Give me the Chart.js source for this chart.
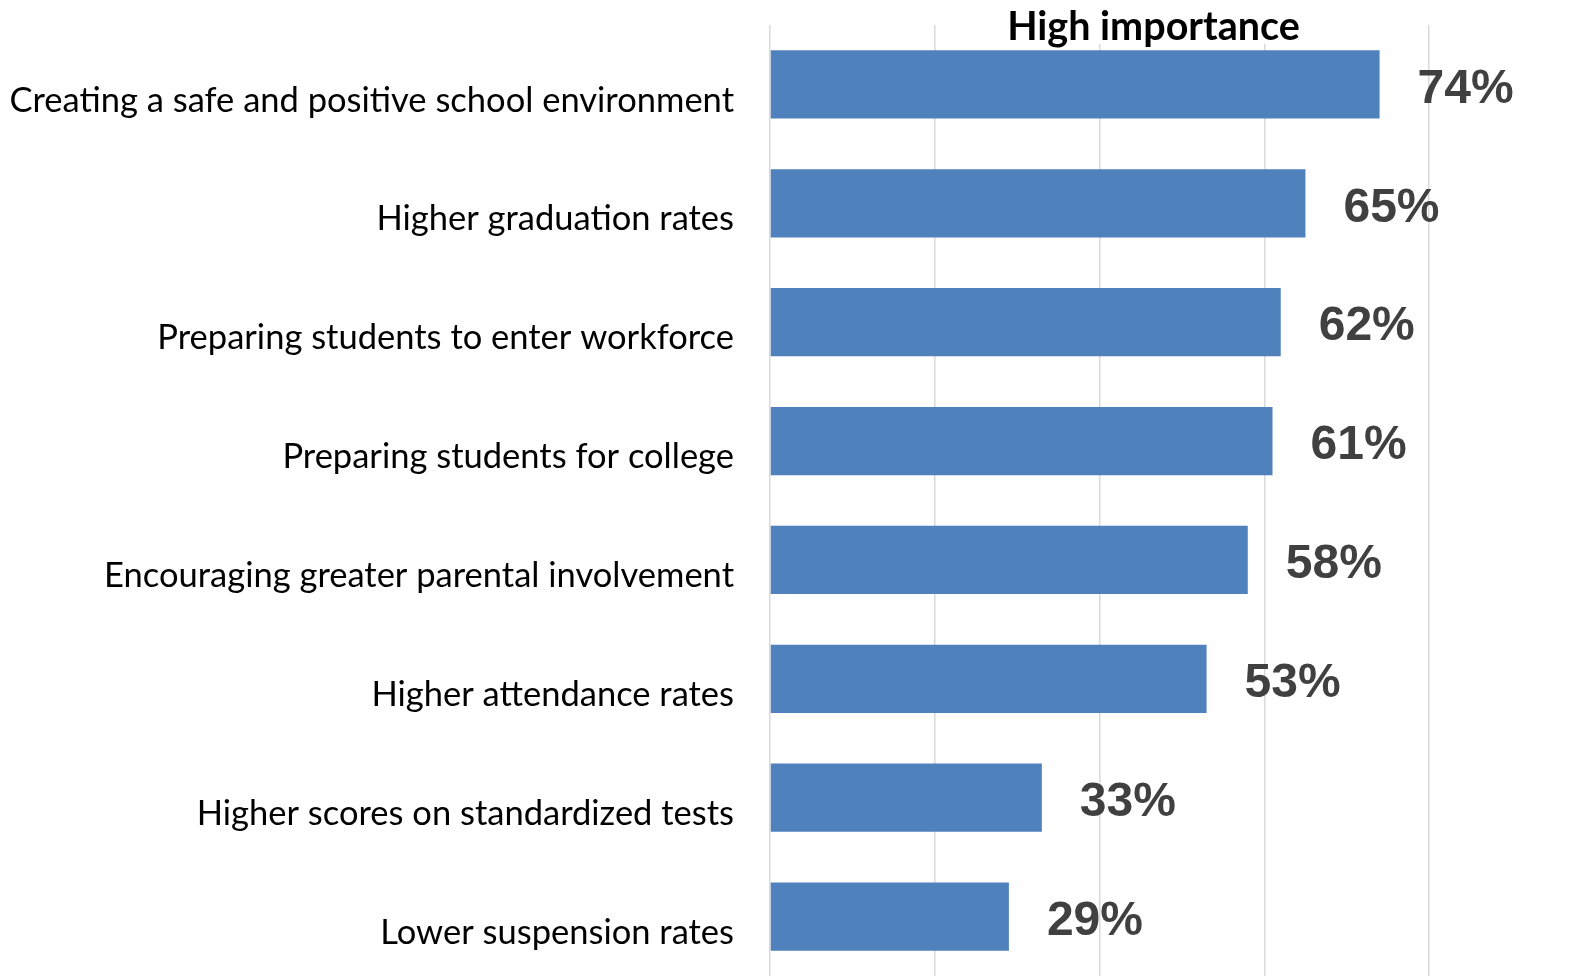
<!DOCTYPE html>
<html>
<head>
<meta charset="utf-8">
<script src="https://cdn.jsdelivr.net/npm/chart.js@4/dist/chart.umd.min.js"></script>
<style>
  html, body { margin: 0; padding: 0; background: #fff; }
  #wrap { width: 1587px; height: 977px; position: relative; }
</style>
</head>
<body>
<div id="wrap"><canvas id="chart"></canvas></div>
<script>
const categories = [
  'Creating a safe and positive school environment',
  'Higher graduation rates',
  'Preparing students to enter workforce',
  'Preparing students for college',
  'Encouraging greater parental involvement',
  'Higher attendance rates',
  'Higher scores on standardized tests',
  'Lower suspension rates'
];
const highImportance = [74, 65, 62, 61, 58, 53, 33, 29];
const chartTitle = 'High importance';

// value labels to the right of each bar
const valueLabels = {
  id: 'valueLabels',
  afterDatasetsDraw(chart) {
    const ctx = chart.ctx;
    const meta = chart.getDatasetMeta(0);
    ctx.save();
    ctx.font = 'bold 48px "Liberation Sans", Arial, sans-serif';
    ctx.fillStyle = '#404040';
    ctx.textAlign = 'left';
    ctx.textBaseline = 'middle';
    meta.data.forEach((bar, i) => {
      ctx.fillText(highImportance[i] + '%', bar.x + 38, bar.y + 5);
    });
    ctx.restore();
  }
};

// title with white box over the grid lines
const topTitle = {
  id: 'topTitle',
  afterDraw(chart) {
    const ctx = chart.ctx;
    const area = chart.chartArea;
    const cx = (area.left + chart.width - 50) / 2;
    ctx.save();
    ctx.font = 'bold 39.5px Lato, "Open Sans", sans-serif';
    const w = ctx.measureText(chartTitle).width;
    ctx.fillStyle = '#fff';
    ctx.fillRect(cx - w / 2 - 4, 0, w + 8, 44);
    ctx.fillStyle = '#000';
    ctx.textAlign = 'center';
    ctx.textBaseline = 'middle';
    ctx.fillText(chartTitle, cx, 27);
    ctx.restore();
  }
};

const ctx = document.getElementById('chart').getContext('2d');
new Chart(ctx, {
  type: 'bar',
  data: {
    labels: categories,
    datasets: [{
      label: chartTitle,
      data: highImportance,
      backgroundColor: '#4F81BD',
      borderWidth: 0,
      categoryPercentage: 1,
      barPercentage: 0.574
    }]
  },
  options: {
    indexAxis: 'y',
    responsive: true,
    maintainAspectRatio: false,
    animation: false,
    layout: {
      padding: { top: 25, right: 158, bottom: 1, left: 0 }
    },
    plugins: {
      legend: { display: false },
      tooltip: { enabled: false }
    },
    scales: {
      x: {
        min: 0,
        max: 80,
        ticks: { stepSize: 20, display: false },
        grid: { color: '#D9D9D9', lineWidth: 1.5, drawTicks: false },
        border: { display: false }
      },
      y: {
        grid: { display: false, drawTicks: false },
        border: { display: false },
        ticks: {
          color: '#000',
          padding: 36,
          labelOffset: 16,
          font: { family: "Lato, 'Open Sans', sans-serif", size: 34.5 }
        },
        afterFit(scale) {
          scale.width = 770;
          scale.paddingTop = 0;
          scale.paddingBottom = 0;
        }
      }
    }
  },
  plugins: [valueLabels, topTitle]
});
</script>
</body>
</html>
